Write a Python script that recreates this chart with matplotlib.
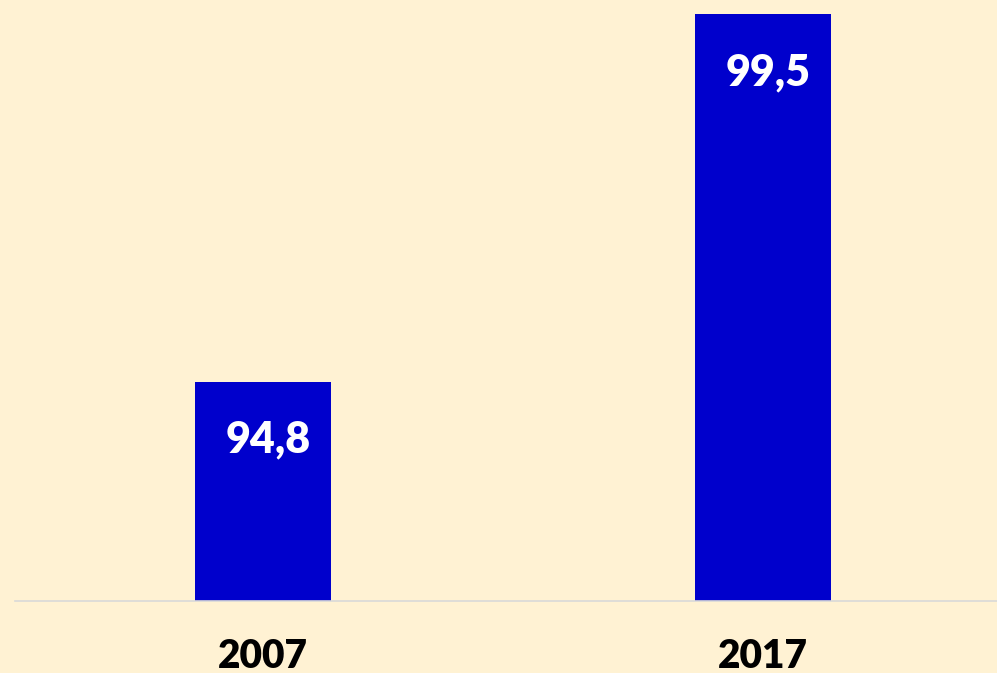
import matplotlib.pyplot as plt

anos = ["2007", "2017"]
valores = [94.8, 99.5]
rotulos = ["94,8", "99,5"]

fundo = "#FFF2D3"
azul = "#0000CC"

fig = plt.figure(figsize=(9.97, 6.73), dpi=100, facecolor=fundo)
ax = fig.add_axes([15/997, 72/673, 982/997, 587/673])
ax.set_facecolor(fundo)

x = range(len(anos))
ax.bar(x, valores, width=0.272, color=azul, bottom=0)
ax.set_ylim(92, 99.5)
ax.set_xlim(-248/500, 734/500)

for i, (v, r) in enumerate(zip(valores, rotulos)):
    ax.annotate(r, (i, v), xytext=(5, -58), textcoords="offset pixels",
                ha="center", va="center", color="white", fontsize=31,
                fontweight="heavy", family="Lato")

ax.set_xticks(list(x))
ax.set_xticklabels(anos, fontsize=28, fontweight="heavy", family="Lato")
ax.tick_params(axis="x", length=0, pad=27)
ax.set_yticks([])
for s in ["top", "left", "right"]:
    ax.spines[s].set_visible(False)
ax.spines["bottom"].set_color("#D9D9D9")
ax.spines["bottom"].set_linewidth(1.2)

fig.savefig("out.png", dpi=100, facecolor=fundo)
